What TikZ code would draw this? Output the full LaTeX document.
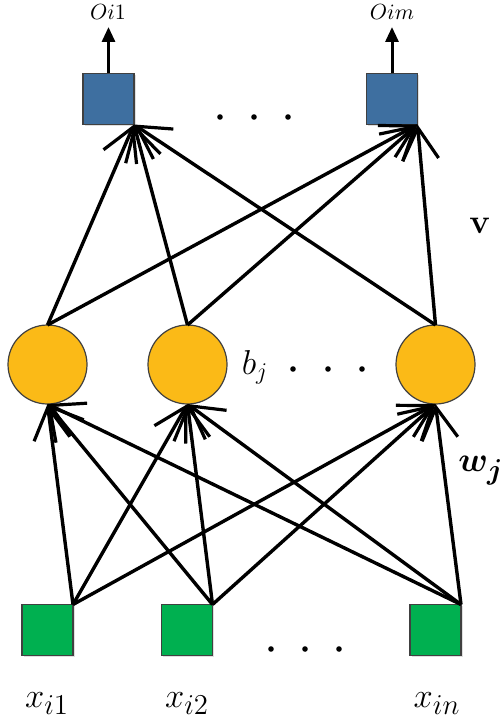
\documentclass[tikz,border=0pt]{standalone}
\usepackage{bm}
\usetikzlibrary{arrows.meta,shadows}
\definecolor{ingreen}{HTML}{00B050}
\definecolor{hidyellow}{HTML}{FBBA17}
\definecolor{outblue}{HTML}{3E6FA0}
\begin{document}
\begin{tikzpicture}[x=0.5pt,y=-0.5pt,
  sq/.style={draw=black!75, line width=0.6pt, minimum size=25.5pt, inner sep=0pt, outer sep=0pt,
    drop shadow={opacity=0.25, shadow xshift=0.8pt, shadow yshift=-0.8pt}},
  inbox/.style={sq, fill=ingreen},
  outbox/.style={sq, fill=outblue},
  hid/.style={circle, draw=black!75, line width=0.6pt, fill=hidyellow, minimum size=39.5pt, inner sep=0pt, outer sep=0pt},
  conn/.style={line width=1.7pt, -{Straight Barb[length=16pt,width=18pt,line width=1.6pt]}},
  outarrow/.style={line width=1.5pt, -{Triangle[length=7.5pt,width=6.5pt]}},
  dotmark/.style={fill=black, draw=none},
  lbl/.style={inner sep=0pt},
  big/.style={font=\fontsize{19}{19}\selectfont},
  small/.style={font=\fontsize{10.5}{10.5}\selectfont}]
\useasboundingbox (0,0) rectangle (500,722);
% nodes
\node[inbox] (in1) at (47.5,630) {};
\node[inbox] (in2) at (187,630) {};
\node[inbox] (in3) at (435.5,630) {};
\node[hid] (c1) at (47.5,364.5) {};
\node[hid] (c2) at (187.5,364.5) {};
\node[hid] (c3) at (435.5,364.5) {};
\node[outbox] (o1) at (108.5,99) {};
\node[outbox] (o2) at (392,99) {};
% input to hidden
\foreach \i in {1,2,3}{
  \foreach \j in {1,2,3}{
    \draw[conn] (in\i.north east) -- (c\j.south);
  }
}
% hidden to output
\foreach \j in {1,2,3}{
  \foreach \k in {1,2}{
    \draw[conn] (c\j.north) -- (o\k.south east);
  }
}
% output arrows
\coordinate (t1) at (108.5,27);
\coordinate (t2) at (392,27);
\draw[outarrow] (o1.north) -- (t1);
\draw[outarrow] (o2.north) -- (t2);
% labels
\node[lbl, small] (lo1) at (108,12) {$Oi\mathrm{1}$};
\node[lbl, small] (lo2) at (392,12) {$Oim$};
\node[lbl, big] (lx1) at (47,704) {$x_{i1}$};
\node[lbl, big] (lx2) at (187,704) {$x_{i2}$};
\node[lbl, big] (lx3) at (437,704) {$x_{in}$};
\node[lbl, font=\fontsize{18}{18}\selectfont] (lb) at (255,367) {$b_j$};
\node[lbl, big] (lv) at (480,226) {$\mathbf{v}$};
\node[lbl, big] (lw) at (481,471) {$\bm{w_j}$};
% dots
\foreach \x in {220,254,288} \fill[dotmark] (\x,117) circle (1.4pt);
\foreach \x in {293,328,362} \fill[dotmark] (\x,369) circle (1.4pt);
\foreach \x in {271,305,339} \fill[dotmark] (\x,649) circle (1.4pt);
\end{tikzpicture}
\end{document}
